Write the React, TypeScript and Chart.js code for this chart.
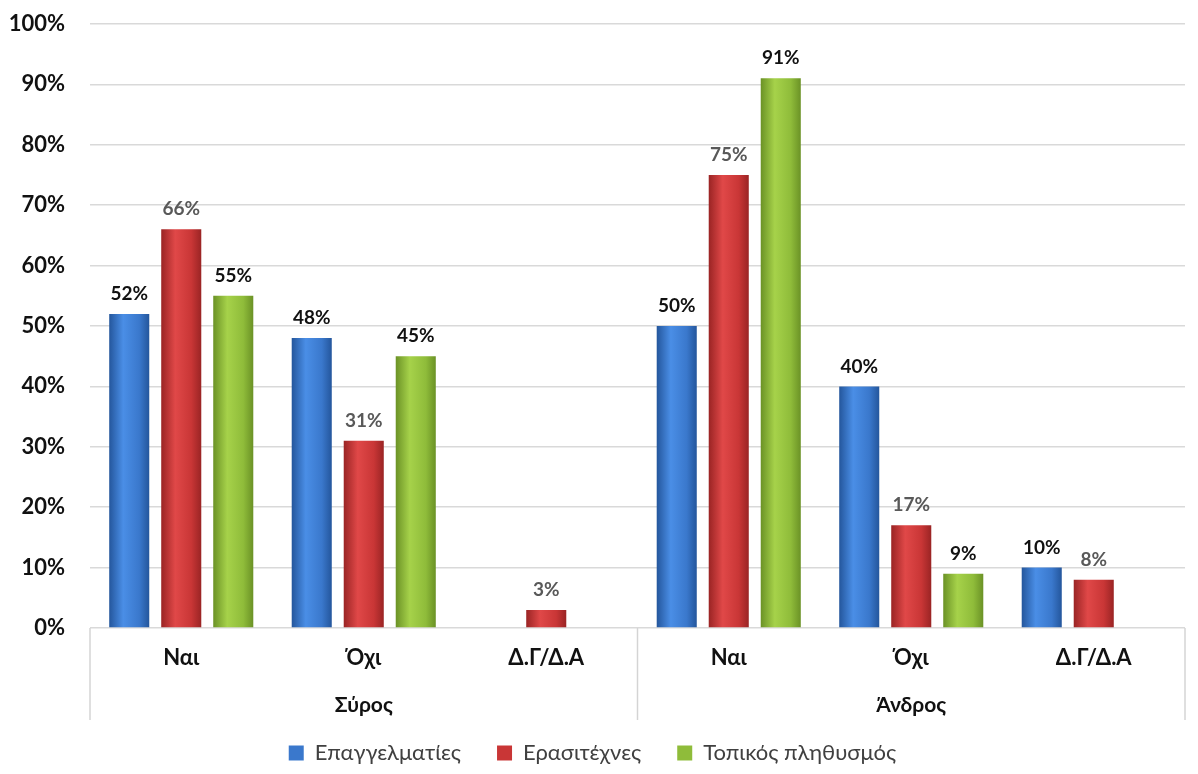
import { useEffect, useRef } from "react";
import { Chart, registerables } from "chart.js";

Chart.register(...registerables);

const categories = ["Ναι", "Όχι", "Δ.Γ/Δ.Α", "Ναι", "Όχι", "Δ.Γ/Δ.Α"];
const groups = ["Σύρος", "Άνδρος"];
const groupSizes = [3, 3];
const seriesNames = ["Επαγγελματίες", "Ερασιτέχνες", "Τοπικός πληθυσμός"];
const professionals = [52, 48, 0, 50, 40, 10];
const amateurs = [66, 31, 3, 75, 17, 8];
const locals = [55, 45, 0, 91, 9, 0];
const yMin = 0;
const yMax = 100;
const yStep = 10;

const FONT = "Lato, 'Open Sans', sans-serif";
const flatColors = ["#3a78cc", "#c93636", "#8fbc3a"];
const edgeColors = ["#24569c", "#9a2424", "#6b9226"];
const midColors = ["#4a8ee6", "#e04848", "#a6d24a"];
const labelColors = ["#111111", "#595959", "#111111"];

const gradientPlugin = {
  id: "barGradient",
  beforeDatasetsDraw(chart: any) {
    const ctx = chart.ctx;
    chart.data.datasets.forEach((_ds: any, di: number) => {
      const meta = chart.getDatasetMeta(di);
      meta.data.forEach((el: any) => {
        const { x, width } = el.getProps(["x", "width"], true);
        if (!isFinite(x) || !isFinite(width)) return;
        const g = ctx.createLinearGradient(x - width / 2, 0, x + width / 2, 0);
        g.addColorStop(0, edgeColors[di]);
        g.addColorStop(0.35, midColors[di]);
        g.addColorStop(0.75, flatColors[di]);
        g.addColorStop(1, edgeColors[di]);
        el.options = Object.assign({}, el.options, { backgroundColor: g });
      });
    });
  },
};

const labelPlugin = {
  id: "valueLabels",
  afterDatasetsDraw(chart: any) {
    const ctx = chart.ctx;
    ctx.save();
    ctx.font = `bold 19px ${FONT}`;
    ctx.textAlign = "center";
    ctx.textBaseline = "middle";
    chart.data.datasets.forEach((ds: any, di: number) => {
      const meta = chart.getDatasetMeta(di);
      meta.data.forEach((el: any, i: number) => {
        const v = ds.data[i];
        if (!v) return;
        ctx.fillStyle = labelColors[di];
        ctx.fillText(`${v}%`, el.x, el.y - 20);
      });
    });
    ctx.restore();
  },
};

const groupPlugin = {
  id: "groupAxis",
  afterDraw(chart: any) {
    const xs = chart.scales.x;
    const ctx = chart.ctx;
    const bottom = chart.chartArea.bottom;
    const half = (xs.getPixelForValue(1) - xs.getPixelForValue(0)) / 2;
    ctx.save();
    ctx.strokeStyle = "#d4d4d4";
    ctx.lineWidth = 1.5;
    ctx.font = `bold 21px ${FONT}`;
    ctx.fillStyle = "#111111";
    ctx.textAlign = "center";
    ctx.textBaseline = "middle";
    let start = 0;
    groups.forEach((g, gi) => {
      const left = xs.getPixelForValue(start) - half;
      const right = xs.getPixelForValue(start + groupSizes[gi] - 1) + half;
      ctx.beginPath();
      ctx.moveTo(left, bottom);
      ctx.lineTo(left, bottom + 92);
      ctx.stroke();
      if (gi === groups.length - 1) {
        ctx.beginPath();
        ctx.moveTo(right, bottom);
        ctx.lineTo(right, bottom + 92);
        ctx.stroke();
      }
      ctx.fillText(g, (left + right) / 2, bottom + 77);
      start += groupSizes[gi];
    });
    ctx.restore();
  },
};

export default function App() {
  const ref = useRef<HTMLCanvasElement | null>(null);
  useEffect(() => {
    if (!ref.current) return;
    const data = [professionals, amateurs, locals];
    const chart = new Chart(ref.current, {
      type: "bar",
      data: {
        labels: categories,
        datasets: seriesNames.map((name, i) => ({
          label: name,
          data: data[i],
          backgroundColor: flatColors[i],
          borderWidth: 0,
          categoryPercentage: 0.855,
          barPercentage: 0.77,
        })),
      },
      options: {
        animation: false,
        responsive: true,
        maintainAspectRatio: false,
        layout: { padding: { top: 24, right: 13, bottom: 0, left: 0 } },
        plugins: {
          legend: {
            position: "bottom",
            labels: {
              font: { family: FONT, size: 22 },
              color: "#404040",
              boxWidth: 15,
              boxHeight: 15,
              padding: 36,
            },
          },
          tooltip: { enabled: false },
          title: { display: false },
        },
        scales: {
          x: {
            grid: { display: false, drawTicks: false },
            border: { display: false },
            ticks: {
              font: { family: FONT, size: 22, weight: "bold" },
              color: "#111111",
              padding: 17,
              autoSkip: false,
              maxRotation: 0,
            },
            afterFit(scale: any) {
              scale.height = 78;
            },
          },
          y: {
            min: yMin,
            max: yMax,
            grid: { color: "#d9d9d9", lineWidth: 1.5, drawTicks: false },
            border: { display: false },
            ticks: {
              stepSize: yStep,
              font: { family: FONT, size: 22, weight: "bold" },
              color: "#111111",
              padding: 25,
              callback: (v: any) => `${v}%`,
            },
            afterFit(scale: any) {
              scale.width = 90;
              scale.paddingTop = 0;
              scale.paddingBottom = 0;
            },
          },
        },
      },
      plugins: [gradientPlugin, labelPlugin, groupPlugin],
    });
    return () => chart.destroy();
  }, []);
  return (
    <div style={{ position: "fixed", left: 0, top: 0, width: 1198, height: 774, background: "#fff" }}>
      <canvas ref={ref} />
    </div>
  );
}
